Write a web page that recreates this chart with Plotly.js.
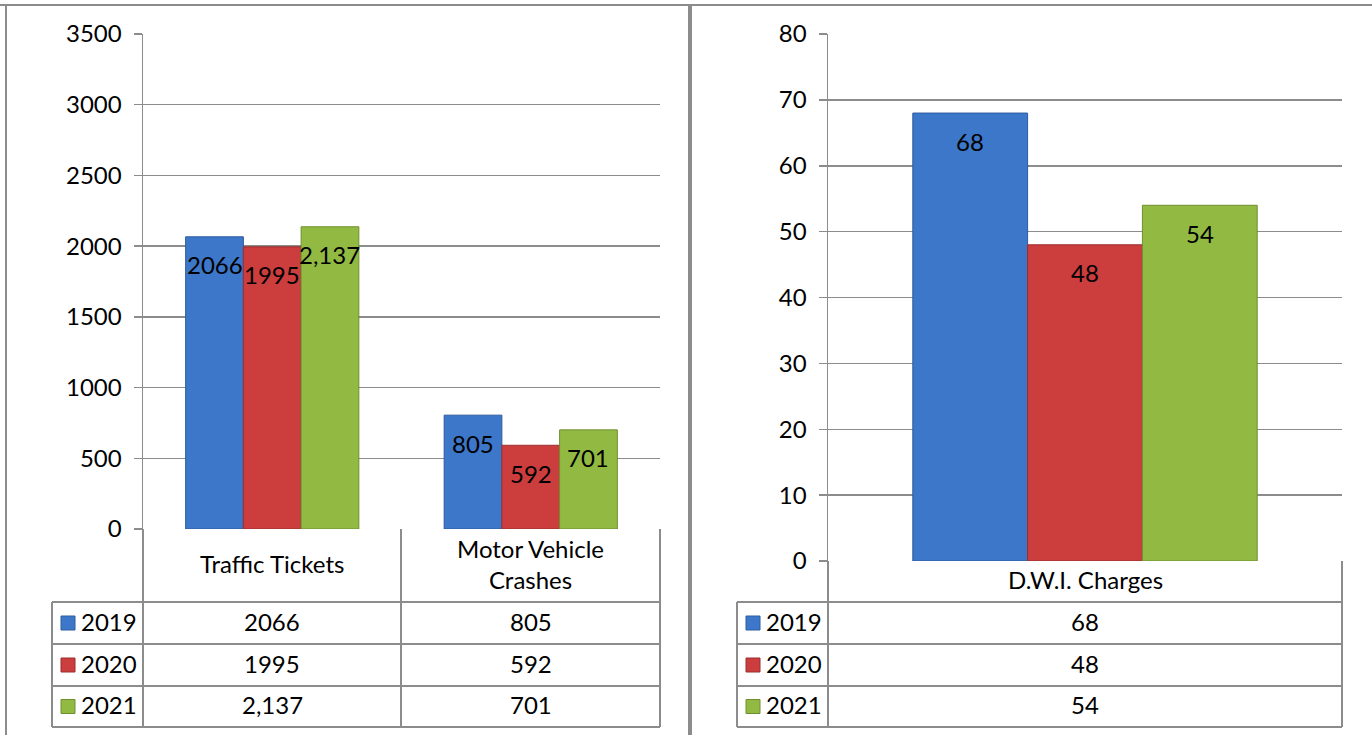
<!DOCTYPE html>
<html>
<head>
<meta charset="utf-8">
<script src="https://cdn.plot.ly/plotly-3.0.1.min.js"></script>
<style>html,body{margin:0;padding:0;background:#fff;}#chart{width:1372px;height:735px;}</style>
</head>
<body>
<div id="chart"></div>
<script>
// ---- data ----
const years = ["2019", "2020", "2021"];
const leftCategories = ["Traffic Tickets", "Motor Vehicle<br>Crashes"];
const leftValues2019 = [2066, 805];
const leftValues2020 = [1995, 592];
const leftValues2021 = [2137, 701];
const leftLabels2019 = ["2066", "805"];
const leftLabels2020 = ["1995", "592"];
const leftLabels2021 = ["2,137", "701"];
const rightCategories = ["D.W.I. Charges"];
const rightValues2019 = [68];
const rightValues2020 = [48];
const rightValues2021 = [54];
const rightLabels2019 = ["68"];
const rightLabels2020 = ["48"];
const rightLabels2021 = ["54"];
const leftTicks = [0, 500, 1000, 1500, 2000, 2500, 3000, 3500];
const rightTicks = [0, 10, 20, 30, 40, 50, 60, 70, 80];

// ---- style ----
const W = 1372, H = 735;
const FONT = "Lato, 'Open Sans', sans-serif";
const colors = ["#3c77c9", "#cc3d3d", "#92ba42"];
const edge = ["#2d5c9e", "#9c2e2e", "#6f8f2f"];
const gridC = "#8c8c8c";
const px = x => x / W;
const py = y => 1 - y / H;

const leftVals = [leftValues2019, leftValues2020, leftValues2021];
const leftLabs = [leftLabels2019, leftLabels2020, leftLabels2021];
const rightVals = [rightValues2019, rightValues2020, rightValues2021];
const rightLabs = [rightLabels2019, rightLabels2020, rightLabels2021];

const traces = [];
years.forEach((yr, k) => {
  traces.push({type: "bar", name: yr, x: leftCategories, y: leftVals[k], xaxis: "x", yaxis: "y",
    marker: {color: colors[k], line: {color: edge[k], width: 1}}, hoverinfo: "skip", showlegend: false});
});
years.forEach((yr, k) => {
  traces.push({type: "bar", name: yr, x: rightCategories, y: rightVals[k], xaxis: "x2", yaxis: "y2",
    marker: {color: colors[k], line: {color: edge[k], width: 1}}, hoverinfo: "skip", showlegend: false});
});

const bargap = 0.33;
const bw = (1 - bargap) / 3;
const annotations = [];
const tf = {family: FONT, size: 24, color: "#000"};

// data labels
function addLabels(cats, vals, labs, xr, yr) {
  cats.forEach((c, i) => {
    for (let k = 0; k < 3; k++) {
      annotations.push({xref: xr, yref: yr, x: i + (k - 1) * bw, y: vals[k][i], text: labs[k][i],
        showarrow: false, yanchor: "middle", xanchor: "center", yshift: -28, font: tf});
    }
  });
}
addLabels(leftCategories, leftVals, leftLabs, "x", "y");
addLabels(rightCategories, rightVals, rightLabs, "x2", "y2");

const shapes = [];
function line(x0, y0, x1, y1, w, c) {
  shapes.push({type: "line", xref: "paper", yref: "paper", x0: px(x0), y0: py(y0), x1: px(x1), y1: py(y1),
    line: {color: c || gridC, width: w || 2}});
}
function text(x, y, t, anchor) {
  annotations.push({xref: "paper", yref: "paper", x: px(x), y: py(y), text: t, showarrow: false,
    xanchor: anchor || "center", yanchor: "middle", font: tf});
}

// table drawing
function table(cats, vals, labs, colX, legendX, headerTop) {
  const rows = [602, 644, 686, 727];
  colX.forEach(x => line(x, headerTop, x, 727));
  line(legendX, 602, legendX, 727);
  rows.forEach(y => line(legendX, y, colX[colX.length - 1], y));
  cats.forEach((c, i) => text((colX[i] + colX[i + 1]) / 2, (headerTop + 602) / 2 - 2, c));
  years.forEach((yr, k) => {
    const yc = (rows[k] + rows[k + 1]) / 2;
    shapes.push({type: "rect", xref: "paper", yref: "paper", x0: px(legendX + 9), x1: px(legendX + 23),
      y0: py(yc + 7), y1: py(yc - 7), fillcolor: colors[k], line: {color: edge[k], width: 1}});
    text(legendX + 27, yc - 2, yr, "left");
    cats.forEach((c, i) => text((colX[i] + colX[i + 1]) / 2, yc - 2, labs[k][i]));
  });
}
table(leftCategories, leftVals, leftLabs, [143, 401, 660], 52, 529);
table(rightCategories, rightVals, rightLabs, [828, 1342], 737, 561);

// panel frames
line(0, 5, 1372, 5, 2);
line(6, 5, 6, 735, 2);
line(690, 5, 690, 735, 4);

const yax = (dom, rng, ticks) => ({domain: dom, range: rng, tickvals: ticks, showgrid: true, gridcolor: gridC, gridwidth: 1.5,
  ticks: "outside", ticklen: 8, tickcolor: gridC, tickwidth: 1.5, showline: true, linecolor: gridC, linewidth: 1.5,
  zeroline: false, tickfont: tf, ticklabelstandoff: 7, fixedrange: true});
const xax = (dom, anchor) => ({domain: dom, type: "category", anchor: anchor, showticklabels: false, showgrid: false,
  showline: false, zeroline: false, ticks: "", fixedrange: true});

const layout = {
  width: W, height: H, margin: {l: 0, r: 0, t: 0, b: 0}, paper_bgcolor: "#fff", plot_bgcolor: "rgba(0,0,0,0)",
  barmode: "group", bargap: bargap, bargroupgap: 0, showlegend: false,
  xaxis: xax([px(143), px(660)], "y"),
  yaxis: yax([py(529), py(34)], [0, 3500], leftTicks),
  xaxis2: xax([px(828), px(1342)], "y2"),
  yaxis2: Object.assign(yax([py(561), py(34)], [0, 80], rightTicks), {anchor: "x2"}),
  annotations: annotations, shapes: shapes, font: {family: FONT}
};
layout.yaxis.anchor = "x";
Plotly.newPlot("chart", traces, layout, {displayModeBar: false, staticPlot: true});
</script>
</body>
</html>
